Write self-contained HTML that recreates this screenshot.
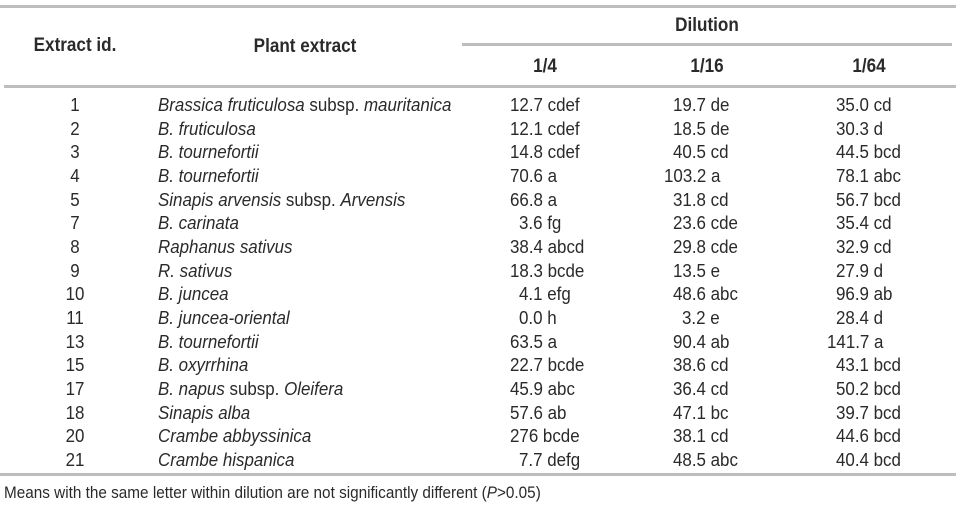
<!DOCTYPE html>
<html><head><meta charset="utf-8"><style>
body{margin:0;width:956px;height:508px;background:#fff;position:relative;overflow:hidden;font-family:"Liberation Sans",sans-serif;color:#2a2a2a}
.t{position:absolute;font-size:18px;white-space:nowrap;transform:scaleX(0.94);transform-origin:0 50%;line-height:20px}
.c{transform-origin:50% 50%}
.b{font-weight:bold;font-size:19px;transform:scaleX(0.9)}
.l{position:absolute;background:#bdbdbd}
i{font-style:italic}
</style></head><body>
<div class="l" style="left:0;top:5px;width:956px;height:3px"></div>
<div class="l" style="left:462px;top:43px;width:490px;height:3px"></div>
<div class="l" style="left:4px;top:85px;width:952px;height:3px"></div>
<div class="l" style="left:0;top:473px;width:956px;height:3px"></div>

<div class="t b c" style="left:15px;width:120px;text-align:center;top:36px">Extract id.</div>
<div class="t b c" style="left:205px;width:200px;text-align:center;top:37px">Plant extract</div>
<div class="t b c" style="left:647px;width:120px;text-align:center;top:16px">Dilution</div>
<div class="t b c" style="left:505px;width:80px;text-align:center;top:57px">1/4</div>
<div class="t b c" style="left:667px;width:80px;text-align:center;top:57px">1/16</div>
<div class="t b c" style="left:829px;width:80px;text-align:center;top:57px">1/64</div>

<div id="rows"></div>
<script>
var d=[
["1","<i>Brassica fruticulosa</i> subsp. <i>mauritanica</i>","12.7 cdef","19.7 de","35.0 cd"],
["2","<i>B. fruticulosa</i>","12.1 cdef","18.5 de","30.3 d"],
["3","<i>B. tournefortii</i>","14.8 cdef","40.5 cd","44.5 bcd"],
["4","<i>B. tournefortii</i>","70.6 a","103.2 a","78.1 abc"],
["5","<i>Sinapis arvensis</i> subsp. <i>Arvensis</i>","66.8 a","31.8 cd","56.7 bcd"],
["7","<i>B. carinata</i>","3.6 fg","23.6 cde","35.4 cd"],
["8","<i>Raphanus sativus</i>","38.4 abcd","29.8 cde","32.9 cd"],
["9","<i>R. sativus</i>","18.3 bcde","13.5 e","27.9 d"],
["10","<i>B. juncea</i>","4.1 efg","48.6 abc","96.9 ab"],
["11","<i>B. juncea-oriental</i>","0.0 h","3.2 e","28.4 d"],
["13","<i>B. tournefortii</i>","63.5 a","90.4 ab","141.7 a"],
["15","<i>B. oxyrrhina</i>","22.7 bcde","38.6 cd","43.1 bcd"],
["17","<i>B. napus</i> subsp. <i>Oleifera</i>","45.9 abc","36.4 cd","50.2 bcd"],
["18","<i>Sinapis alba</i>","57.6 ab","47.1 bc","39.7 bcd"],
["20","<i>Crambe abbyssinica</i>","276 bcde","38.1 cd","44.6 bcd"],
["21","<i>Crambe hispanica</i>","7.7 defg","48.5 abc","40.4 bcd"]];
function x0(v,b){var ip=v.split(/[ .]/)[0];if(v.split(' ')[0].indexOf('.')<0)return b;return b+(ip.length==1?9:ip.length==3?-9:0);}
var h="";
d.forEach(function(r,k){var y=95+k*23.67;
h+='<div class="t c" style="left:35px;width:80px;text-align:center;top:'+y+'px">'+r[0]+'</div>';
h+='<div class="t" style="left:158px;top:'+y+'px">'+r[1]+'</div>';
h+='<div class="t" style="left:'+x0(r[2],510)+'px;top:'+y+'px">'+r[2]+'</div>';
h+='<div class="t" style="left:'+x0(r[3],673)+'px;top:'+y+'px">'+r[3]+'</div>';
h+='<div class="t" style="left:'+x0(r[4],836)+'px;top:'+y+'px">'+r[4]+'</div>';});
document.getElementById('rows').innerHTML=h;
</script>
<div class="t" style="left:4px;top:483px;font-size:17px;transform:scaleX(0.9)">Means with the same letter within dilution are not significantly different (<i>P</i>&gt;0.05)</div>
</body></html>
